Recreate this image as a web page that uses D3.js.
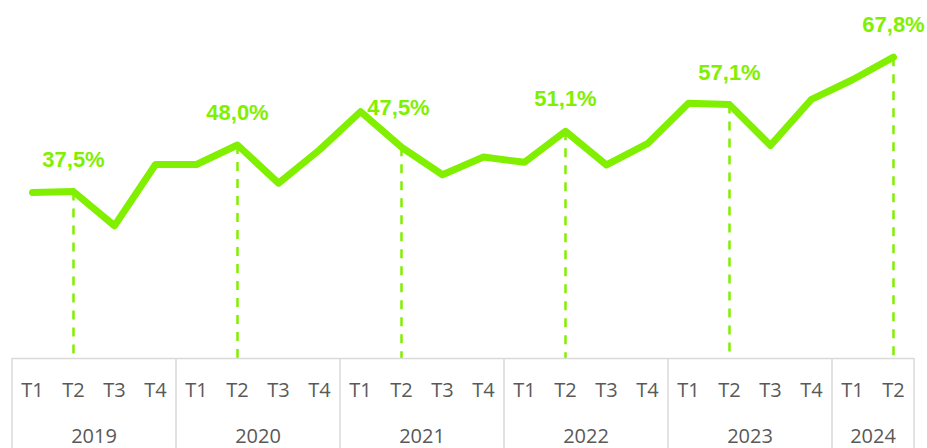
<!DOCTYPE html>
<html>
<head>
<meta charset="utf-8">
<script src="https://cdn.jsdelivr.net/npm/d3@7"></script>
<style>
  body { margin: 0; background: #fff; }
  svg { display: block; }
</style>
</head>
<body>
<svg id="chart" width="927" height="448"></svg>
<script>
var years = ["2019", "2020", "2021", "2022", "2023", "2024"];
var quarters = ["T1", "T2", "T3", "T4"];
var quartersPerYear = [4, 4, 4, 4, 4, 2];

// share per quarter, in %
var values = [
  37.3, 37.5, 29.8, 43.6,
  43.6, 48.0, 39.4, 46.9,
  55.5, 47.5, 41.3, 45.3,
  44.1, 51.1, 43.5, 48.3,
  57.4, 57.1, 47.9, 58.3,
  62.7, 67.8
];

// quarters that get a label and a drop line
var labelled = [1, 5, 9, 13, 17, 21];

var green = "#80f000";
var grey = "#d9d9d9";
var textGrey = "#595959";

var svg = d3.select("#chart");

var points = [];
years.forEach(function (y, yi) {
  for (var q = 0; q < quartersPerYear[yi]; q++) {
    points.push({ key: y + "-" + quarters[q], year: y, q: quarters[q], value: values[points.length] });
  }
});

var x = d3.scaleBand()
  .domain(points.map(function (d) { return d.key; }))
  .range([12, 914])
  .padding(0);

var y = d3.scaleLinear().domain([0, 80]).range([358, 3]);

function cx(d) { return x(d.key) + x.bandwidth() / 2; }

// drop lines
var marked = labelled.map(function (i) { return points[i]; });

svg.append("g")
  .selectAll("line")
  .data(marked)
  .enter()
  .append("line")
  .attr("x1", cx)
  .attr("x2", cx)
  .attr("y1", function (d) { return y(d.value); })
  .attr("y2", y(0))
  .attr("stroke", green)
  .attr("stroke-width", 2.5)
  .attr("stroke-dasharray", "9,8");

// axis box: top line + year separators
var axis = svg.append("g");
axis.append("line")
  .attr("x1", x.range()[0])
  .attr("x2", x.range()[1])
  .attr("y1", y(0) + 0.5)
  .attr("y2", y(0) + 0.5)
  .attr("stroke", grey)
  .attr("stroke-width", 1.5);

var bounds = [];
var start = 0;
years.forEach(function (yr, yi) {
  bounds.push({ year: yr, from: start, to: start + quartersPerYear[yi] });
  start += quartersPerYear[yi];
});

var edges = [0].concat(bounds.map(function (b) { return b.to; }));
axis.selectAll(".sep")
  .data(edges)
  .enter()
  .append("line")
  .attr("class", "sep")
  .attr("x1", function (i) { return i < points.length ? x(points[i].key) : x.range()[1]; })
  .attr("x2", function (i) { return i < points.length ? x(points[i].key) : x.range()[1]; })
  .attr("y1", y(0))
  .attr("y2", 448)
  .attr("stroke", grey)
  .attr("stroke-width", 1.5);

axis.selectAll(".qlab")
  .data(points)
  .enter()
  .append("text")
  .attr("class", "qlab")
  .attr("x", cx)
  .attr("y", 397)
  .attr("text-anchor", "middle")
  .attr("font-family", "'Open Sans', sans-serif")
  .attr("font-size", 20)
  .attr("fill", textGrey)
  .text(function (d) { return d.q; });

axis.selectAll(".ylab")
  .data(bounds)
  .enter()
  .append("text")
  .attr("class", "ylab")
  .attr("x", function (b) {
    var a = x(points[b.from].key);
    var e = b.to < points.length ? x(points[b.to].key) : x.range()[1];
    return (a + e) / 2;
  })
  .attr("y", 443)
  .attr("text-anchor", "middle")
  .attr("font-family", "'Open Sans', sans-serif")
  .attr("font-size", 20)
  .attr("fill", textGrey)
  .text(function (b) { return b.year; });

// the line
var line = d3.line()
  .x(cx)
  .y(function (d) { return y(d.value); });

svg.append("path")
  .datum(points)
  .attr("d", line)
  .attr("fill", "none")
  .attr("stroke", green)
  .attr("stroke-width", 7)
  .attr("stroke-linejoin", "round")
  .attr("stroke-linecap", "round");

// value labels (47,5% sits higher to clear the peak)
var fmt = function (v) { return v.toFixed(1).replace(".", ",") + "%"; };

svg.append("g")
  .selectAll("text")
  .data(marked)
  .enter()
  .append("text")
  .attr("x", function (d) { return cx(d) - (d.key === "2021-T2" ? 3 : 0); })
  .attr("y", function (d) { return y(d.value) - (d.key === "2021-T2" ? 32 : 25); })
  .attr("text-anchor", "middle")
  .attr("font-family", "'Liberation Sans', Arial, sans-serif")
  .attr("font-weight", "bold")
  .attr("font-size", 22)
  .attr("fill", green)
  .text(function (d) { return fmt(d.value); });
</script>
</body>
</html>
